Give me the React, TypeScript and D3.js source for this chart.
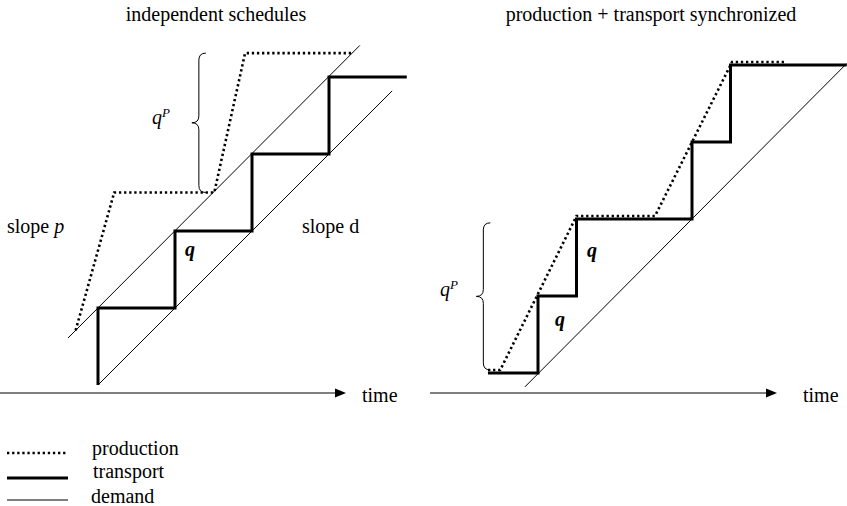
import React from "react";
import * as d3 from "d3";

// ---- data (time t, cumulative quantity Q in units of q) ----
const leftDemand: [number, number][] = [[0, 0], [3.82, 3.82]];
const leftUpper: [number, number][] = [[-0.39, 0.61], [3.4, 4.41]];
const leftTransport: [number, number][] = [
  [0, 0], [0, 1], [1, 1], [1, 2], [2, 2], [2, 3], [3, 3], [3, 4], [4.01, 4],
];
const leftProduction: [number, number][] = [
  [-0.29, 0.71], [0.21, 2.5], [1.51, 2.5], [1.91, 4.31], [3.31, 4.31],
];
const leftBrace = { t: 1.31, q0: 2.5, q1: 4.31 };

const rightDemand: [number, number][] = [[-0.17, -0.18], [4.01, 4.02]];
const rightTransport: [number, number][] = [
  [-0.65, 0], [0, 0], [0, 1], [0.5, 1], [0.5, 2], [2, 2], [2, 3], [2.5, 3], [2.5, 4], [4.01, 4],
];
const rightProduction: [number, number][] = [
  [-0.65, 0], [-0.49, 0], [0.5, 2], [1.52, 2], [2.52, 4], [3.21, 4],
];
const rightBrace = { t: -0.71, q0: 0.04, q1: 1.95 };

const titles = ["independent schedules", "production + transport synchronized"];
const legendItems = ["production", "transport", "demand"];

const FONT = "Liberation Serif, Times New Roman, DejaVu Serif, serif";
const TXT: React.CSSProperties = { fontFamily: FONT, fontSize: "20px" };

// ---- scales ----
const xL = d3.scaleLinear().domain([0, 4]).range([98, 406]);
const yL = d3.scaleLinear().domain([0, 4]).range([385, 77]);
const xR = d3.scaleLinear().domain([0, 4]).range([538, 846]);
const yR = d3.scaleLinear().domain([0, 4]).range([373, 65]);

function lineGen(x: d3.ScaleLinear<number, number>, y: d3.ScaleLinear<number, number>) {
  return d3
    .line<[number, number]>()
    .x((d) => x(d[0]))
    .y((d) => y(d[1]));
}

function bracePath(x: number, y1: number, y2: number, w: number) {
  const ym = (y1 + y2) / 2;
  const r = w;
  const p = d3.path();
  p.moveTo(x + w, y1);
  p.quadraticCurveTo(x, y1, x, y1 + r);
  p.lineTo(x, ym - r);
  p.quadraticCurveTo(x, ym, x - w, ym);
  p.quadraticCurveTo(x, ym, x, ym + r);
  p.lineTo(x, y2 - r);
  p.quadraticCurveTo(x, y2, x + w, y2);
  return p.toString();
}

const DOT = { stroke: "#000", strokeWidth: 2.6, strokeDasharray: "2.3 2.8", fill: "none" };
const THICK = { stroke: "#000", strokeWidth: 3, fill: "none" };
const THIN = { stroke: "#000", strokeWidth: 1, fill: "none" };

function TimeAxis({ x0, x1, y, label }: { x0: number; x1: number; y: number; label: number }) {
  return (
    <g>
      <line x1={x0} x2={x1 - 8} y1={y} y2={y} stroke="#000" strokeWidth={1} />
      <polygon points={`${x1},${y} ${x1 - 11},${y - 4.5} ${x1 - 11},${y + 4.5}`} fill="#000" />
      <text x={label} y={402} style={TXT}>time</text>
    </g>
  );
}

export default function App() {
  const gL = lineGen(xL, yL);
  const gR = lineGen(xR, yR);
  return (
    <svg
      width={847}
      height={506}
      style={{ position: "absolute", left: 0, top: 0, background: "#fff", fontFamily: FONT }}
    >
      <rect width={847} height={506} fill="#fff" />
      {/* titles */}
      <text x={216} y={21} style={TXT} textAnchor="middle">{titles[0]}</text>
      <text x={651} y={21} style={TXT} textAnchor="middle">{titles[1]}</text>

      {/* left panel */}
      <path d={gL(leftDemand) || ""} {...THIN} />
      <path d={gL(leftUpper) || ""} {...THIN} />
      <path d={gL(leftTransport) || ""} {...THICK} strokeLinejoin="miter" />
      <path d={gL(leftProduction) || ""} {...DOT} />
      <path d={bracePath(xL(leftBrace.t), yL(leftBrace.q1), yL(leftBrace.q0), 7)} {...THIN} />
      <text x={152} y={124} style={{ ...TXT, fontStyle: "italic" }}>
        q<tspan style={{ fontSize: "13px" }} dy={-7}>P</tspan>
      </text>
      <text x={7} y={233} style={TXT}>
        slope <tspan style={{ fontStyle: "italic" }}>p</tspan>
      </text>
      <text x={302} y={233} style={TXT}>slope d</text>
      <text x={185} y={256} style={{ ...TXT, fontStyle: "italic", fontWeight: "bold" }}>q</text>
      <TimeAxis x0={0} x1={346} y={393} label={362} />

      {/* right panel */}
      <path d={gR(rightDemand) || ""} {...THIN} />
      <path d={gR(rightTransport) || ""} {...THICK} strokeLinejoin="miter" />
      <g transform="translate(0,-3)">
        <path d={gR(rightProduction) || ""} {...DOT} />
      </g>
      <path d={bracePath(xR(rightBrace.t), yR(rightBrace.q1), yR(rightBrace.q0), 7)} {...THIN} />
      <text x={440} y={296} style={{ ...TXT, fontStyle: "italic" }}>
        q<tspan style={{ fontSize: "13px" }} dy={-7}>P</tspan>
      </text>
      <text x={587} y={257} style={{ ...TXT, fontStyle: "italic", fontWeight: "bold" }}>q</text>
      <text x={555} y={326} style={{ ...TXT, fontStyle: "italic", fontWeight: "bold" }}>q</text>
      <TimeAxis x0={430} x1={777} y={393} label={803} />

      {/* legend */}
      <line x1={7} x2={67} y1={453} y2={453} {...DOT} />
      <line x1={7} x2={68} y1={478} y2={478} {...THICK} />
      <line x1={7} x2={68} y1={500} y2={500} {...THIN} />
      <text x={92} y={455} style={TXT}>{legendItems[0]}</text>
      <text x={93} y={478} style={TXT}>{legendItems[1]}</text>
      <text x={91} y={503} style={TXT}>{legendItems[2]}</text>
    </svg>
  );
}
